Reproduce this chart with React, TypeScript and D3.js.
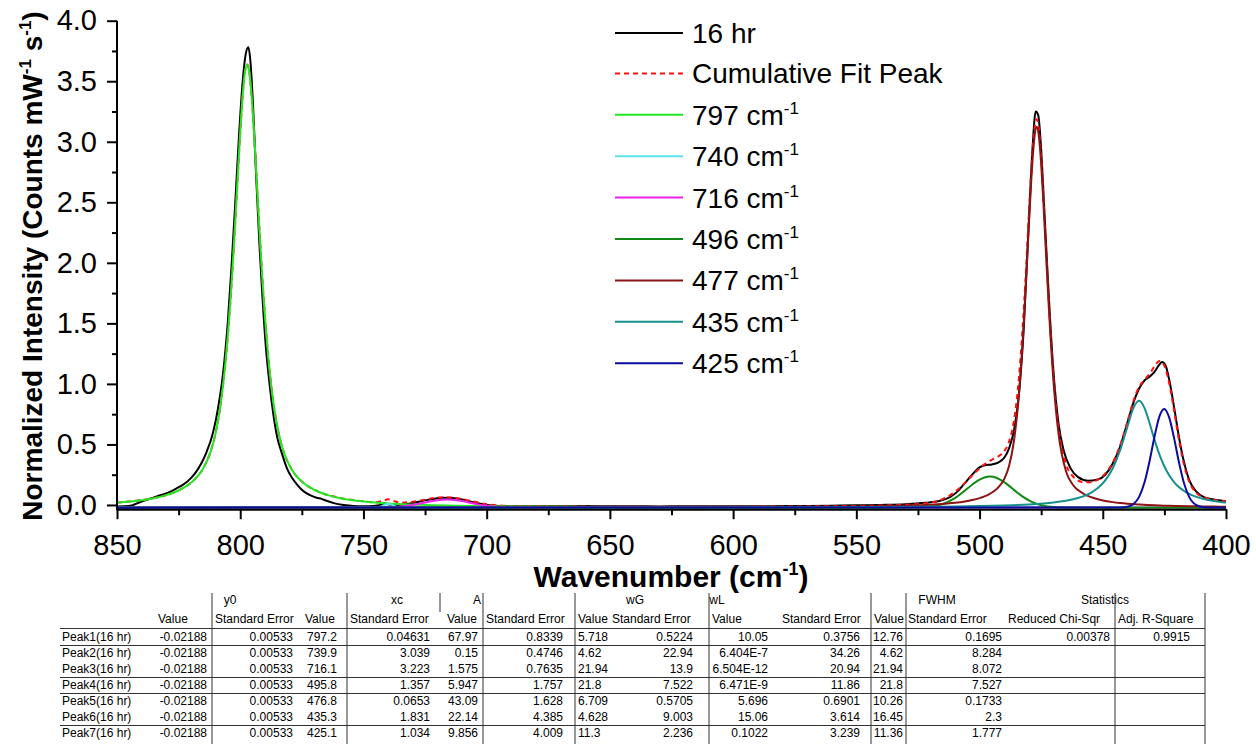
import React, { useEffect, useRef } from 'react';
import * as d3 from 'd3';

type Pt = [number, number];

// ---------- spectrum data (wavenumber, intensity) ----------
const spectrum16hr: Pt[] = [
  [850, -0.012], [847, -0.011], [844, -0.004], [841, 0.02], [838, 0.042], [835, 0.062], [832, 0.083],
  [829, 0.104], [826, 0.135], [823, 0.17], [820, 0.222], [817, 0.3], [814, 0.42], [811, 0.6], [809, 0.8],
  [807, 1.08], [805, 1.52], [803.5, 1.98], [802, 2.5], [800.5, 3.05], [799, 3.5], [797.8, 3.72], [796.7, 3.78],
  [795.8, 3.65], [794.8, 3.3], [793.5, 2.7], [792.2, 2.15], [791, 1.72], [789.5, 1.28], [788, 0.98],
  [786.5, 0.74], [785, 0.56], [783, 0.42], [781, 0.3], [779, 0.225], [777, 0.17], [775, 0.125], [773, 0.095],
  [771, 0.075], [769, 0.06], [767, 0.05], [765, 0.035], [762, 0.015], [758, 0.0], [754, -0.008], [750, -0.01],
  [746, -0.008], [743, 0.0], [741.5, 0.015], [740, 0.005], [737, -0.002], [733, 0.005], [729, 0.02], [725, 0.038],
  [721, 0.052], [718, 0.06], [714, 0.057], [710, 0.045], [706, 0.025], [702, 0.008], [698, -0.004], [694, -0.008],
  [688, -0.01], [680, -0.01], [670, -0.011], [660, -0.009], [650, -0.011], [640, -0.01], [630, -0.012],
  [620, -0.01], [610, -0.011], [600, -0.01], [590, -0.011], [580, -0.009], [570, -0.008], [560, -0.006],
  [550, -0.003], [540, 0.0], [530, 0.006], [522, 0.018], [516, 0.035], [512, 0.065], [509, 0.11], [506, 0.18],
  [503, 0.25], [500, 0.31], [497.5, 0.33], [495, 0.335], [492.5, 0.35], [490, 0.39], [488, 0.47], [486, 0.62],
  [484, 0.92], [482, 1.48], [480, 2.35], [478.5, 2.95], [477.2, 3.25], [476.2, 3.22], [475.2, 3.0], [474, 2.55],
  [473, 2.15], [472, 1.76], [470, 1.1], [468, 0.68], [466, 0.46], [463, 0.3], [460, 0.23], [456, 0.2], [452, 0.21],
  [449, 0.25], [446, 0.34], [443, 0.48], [440, 0.68], [437.5, 0.85], [435.3, 0.96], [433, 1.03], [431, 1.06],
  [429, 1.1], [427, 1.16], [426, 1.18], [424.5, 1.15], [423, 1.03], [421, 0.8], [419, 0.55], [417, 0.35],
  [415, 0.21], [412, 0.11], [409, 0.065], [405, 0.045], [400, 0.03],
];

const cumulativeFit: Pt[] = [
  [850, 0.0195], [845, 0.0285], [840, 0.04], [835, 0.057], [830, 0.082], [825, 0.12], [820, 0.184], [815, 0.3045],
  [812, 0.4418], [810, 0.5928], [808, 0.8244], [806, 1.1753], [805, 1.407], [804, 1.6798], [803, 1.996], [802, 2.3458],
  [801, 2.716], [800, 3.0768], [799, 3.385], [798, 3.5858], [797.2, 3.6378], [796.4, 3.5858], [795.4, 3.385],
  [794.4, 3.0768], [793.4, 2.716], [792.4, 2.3458], [791.4, 1.996], [790.4, 1.6798], [789.4, 1.407], [788.4, 1.1753],
  [786.4, 0.8244], [784.4, 0.5928], [782.4, 0.4418], [779.4, 0.3045], [774.4, 0.184], [769.4, 0.12], [764.4, 0.082],
  [759.4, 0.057], [754.4, 0.041], [750, 0.03], [745, 0.0218], [742, 0.0351], [740, 0.0469], [738, 0.0351],
  [735, 0.0185], [730, 0.0267], [725, 0.0439], [720, 0.0603], [716, 0.0643], [712, 0.0565], [706, 0.0309],
  [700, 0.0069], [695, -0.004], [690, -0.0089], [650, -0.014], [600, -0.014], [560, -0.0101], [540, -0.0044],
  [530, 0.0014], [520, 0.0188], [515, 0.0477], [510, 0.1074], [506, 0.1802], [503, 0.2427], [500, 0.3019],
  [498, 0.3354], [495.8, 0.3648], [493, 0.3952], [490, 0.4436], [488, 0.5239], [486, 0.703], [484, 1.0553],
  [482, 1.6349], [480, 2.3927], [479, 2.7641], [478, 3.0509], [477, 3.1847], [476.8, 3.186], [476, 3.1168],
  [475, 2.8731], [474, 2.5153], [473, 2.1139], [472, 1.7211], [470, 1.0701], [468, 0.6469], [465, 0.3425],
  [462, 0.2343], [458, 0.1892], [455, 0.1882], [452, 0.2095], [449, 0.259], [446, 0.3477], [443, 0.4895],
  [440, 0.6874], [437.5, 0.8628], [435.3, 0.9747], [433, 1.0356], [431, 1.0823], [429, 1.1455], [427, 1.1882],
  [426, 1.1822], [425.1, 1.1545], [423, 1.0007], [421, 0.7705], [419, 0.5267], [417, 0.3278], [415, 0.1958],
  [412, 0.0991], [409, 0.0632], [405, 0.0427], [400, 0.0278],
];

const peak797: Pt[] = [
  [850, 0.019], [845, 0.028], [840, 0.0395], [835, 0.0563], [830, 0.0811], [825, 0.1195], [820, 0.1835],
  [815, 0.3037], [812, 0.441], [810, 0.592], [808, 0.8236], [806, 1.1745], [805, 1.406], [804, 1.679], [803, 1.995],
  [802, 2.345], [801, 2.715], [800, 3.076], [799, 3.384], [798, 3.585], [797.2, 3.637], [796.4, 3.585],
  [795.4, 3.384], [794.4, 3.076], [793.4, 2.715], [792.4, 2.345], [791.4, 1.995], [790.4, 1.679], [789.4, 1.406],
  [788.4, 1.1745], [786.4, 0.8236], [784.4, 0.592], [782.4, 0.441], [779.4, 0.3037], [774.4, 0.1835],
  [769.4, 0.1195], [764.4, 0.0811], [759.4, 0.0563], [754.4, 0.0395], [744.4, 0.019], [727.2, 0.001],
  [697.2, -0.011], [647.2, -0.017], [597.2, -0.019], [497.2, -0.021], [400, -0.021],
];

const peak740: Pt[] = [
  [850, -0.022], [746, -0.0217], [744, -0.0186], [743, -0.0132], [742, -0.0048], [741, 0.0041], [740, 0.0085],
  [739, 0.0055], [738, -0.0029], [737, -0.0118], [736, -0.0178], [734, -0.0217], [400, -0.022],
];

const peak716: Pt[] = [
  [850, -0.022], [750, -0.0219], [745, -0.0215], [740, -0.0195], [736, -0.0151], [732, -0.0063], [728, 0.0078],
  [724, 0.025], [720, 0.0397], [716.1, 0.0454], [712, 0.0392], [708, 0.0242], [704, 0.007], [700, -0.0069],
  [696, -0.0154], [692, -0.0196], [686, -0.0216], [400, -0.022],
];

const peak496: Pt[] = [
  [850, -0.022], [540, -0.022], [530, -0.0217], [520, -0.0136], [515, 0.0078], [510, 0.057], [506, 0.1177],
  [503, 0.1674], [500, 0.2092], [498, 0.2272], [495.8, 0.2343], [493, 0.2228], [490, 0.1886], [488, 0.1577],
  [486, 0.1244], [484, 0.0918], [482, 0.0624], [480, 0.0377], [478, 0.0183], [476, 0.004], [474, -0.006],
  [472, -0.0126], [470, -0.0167], [468, -0.0192], [465, -0.021], [460, -0.022], [400, -0.022],
];

const peak477: Pt[] = [
  [850, -0.0217], [700, -0.0211], [600, -0.0191], [560, -0.0156], [540, -0.011], [530, -0.0065], [520, 0.0014],
  [515, 0.0079], [510, 0.0173], [506, 0.0284], [503, 0.0402], [500, 0.0565], [498, 0.0712], [495.8, 0.0925],
  [493, 0.133], [490, 0.2139], [488, 0.3237], [486, 0.5346], [484, 0.9179], [482, 1.525], [480, 2.3054],
  [479, 2.686], [478, 2.9806], [477, 3.1208], [476.8, 3.123], [476, 3.058], [475, 2.8183], [474, 2.4633],
  [473, 2.0638], [472, 1.672], [470, 1.0208], [468, 0.5951], [465, 0.2831], [462, 0.1632], [458, 0.0949],
  [455, 0.0664], [452, 0.0471], [449, 0.0335], [446, 0.0235], [443, 0.0159], [440, 0.0101], [435, 0.0034],
  [429, -0.0028], [425, -0.0056], [420, -0.0084], [415, -0.0105], [410, -0.0121], [405, -0.0134], [400, -0.0145],
];

const peak435: Pt[] = [
  [850, -0.0217], [700, -0.0212], [600, -0.02], [560, -0.0185], [540, -0.0171], [520, -0.0145], [510, -0.0124],
  [500, -0.0092], [490, -0.0043], [480, 0.0043], [474, 0.0127], [470, 0.0207], [465, 0.0351], [462, 0.0475],
  [458, 0.0711], [455, 0.0986], [452, 0.1392], [449, 0.2023], [446, 0.3009], [443, 0.4496], [440, 0.6472],
  [437.5, 0.8036], [435.3, 0.8611], [433, 0.7985], [431, 0.6746], [429, 0.5374], [427, 0.4153], [425.1, 0.322],
  [423, 0.2431], [421, 0.1874], [419, 0.1461], [417, 0.1154], [415, 0.0923], [412, 0.0672], [409, 0.0495],
  [405, 0.033], [400, 0.0193],
];

const peak425: Pt[] = [
  [850, -0.022], [446, -0.0219], [443, -0.0212], [440, -0.0151], [437.5, 0.0079], [435.3, 0.0651], [433, 0.1912],
  [431, 0.3637], [429, 0.5658], [427, 0.7321], [425.1, 0.793], [423, 0.7193], [421, 0.5459], [419, 0.3443],
  [417, 0.177], [415, 0.069], [412, -0.0016], [409, -0.0189], [405, -0.0219], [400, -0.022],
];

// ---------- legend ----------
const legendLabels = ['16 hr', 'Cumulative Fit Peak', '797', '740', '716', '496', '477', '435', '425'];
const legendColors = ['#000000', '#ff1010', '#22e822', '#5ae4ee', '#ee22ee', '#108a10', '#8c1414', '#168f8f', '#0c0ca0'];
const legendSuperscript = [false, false, true, true, true, true, true, true, true];

// ---------- axis ticks ----------
const xTickValues = [850, 800, 750, 700, 650, 600, 550, 500, 450, 400];
const xMinorTicks = [825, 775, 725, 675, 625, 575, 525, 475, 425];
const yTickValues = [0, 0.5, 1.0, 1.5, 2.0, 2.5, 3.0, 3.5, 4.0];
const yMinorTicks = [0.25, 0.75, 1.25, 1.75, 2.25, 2.75, 3.25, 3.75];

// ---------- fit table ----------
const peakLabels = ['Peak1(16 hr)', 'Peak2(16 hr)', 'Peak3(16 hr)', 'Peak4(16 hr)', 'Peak5(16 hr)', 'Peak6(16 hr)', 'Peak7(16 hr)'];
const y0Values = ['-0.02188', '-0.02188', '-0.02188', '-0.02188', '-0.02188', '-0.02188', '-0.02188'];
const y0Errors = ['0.00533', '0.00533', '0.00533', '0.00533', '0.00533', '0.00533', '0.00533'];
const xcValues = ['797.2', '739.9', '716.1', '495.8', '476.8', '435.3', '425.1'];
const xcErrors = ['0.04631', '3.039', '3.223', '1.357', '0.0653', '1.831', '1.034'];
const aValues = ['67.97', '0.15', '1.575', '5.947', '43.09', '22.14', '9.856'];
const aErrors = ['0.8339', '0.4746', '0.7635', '1.757', '1.628', '4.385', '4.009'];
const wgValues = ['5.718', '4.62', '21.94', '21.8', '6.709', '4.628', '11.3'];
const wgErrors = ['0.5224', '22.94', '13.9', '7.522', '0.5705', '9.003', '2.236'];
const wlValues = ['10.05', '6.404E-7', '6.504E-12', '6.471E-9', '5.696', '15.06', '0.1022'];
const wlErrors = ['0.3756', '34.26', '20.94', '11.86', '0.6901', '3.614', '3.239'];
const fwhmValues = ['12.76', '4.62', '21.94', '21.8', '10.26', '16.45', '11.36'];
const fwhmErrors = ['0.1695', '8.284', '8.072', '7.527', '0.1733', '2.3', '1.777'];
const reducedChiSqr = ['0.00378', '', '', '', '', '', ''];
const adjRSquare = ['0.9915', '', '', '', '', '', ''];
const groupHeaders = ['y0', 'xc', 'A', 'wG', 'wL', 'FWHM', 'Statistics'];
const subHeaders = ['Value', 'Standard Error', 'Value', 'Standard Error', 'Value', 'Standard Error', 'Value',
  'Standard Error', 'Value', 'Standard Error', 'Value', 'Standard Error', 'Reduced Chi-Sqr', 'Adj. R-Square'];

const FONT = "'Liberation Sans', Arial, Helvetica, sans-serif";

export default function App() {
  const ref = useRef<SVGSVGElement>(null);

  useEffect(() => {
    const svg = d3.select(ref.current);
    svg.selectAll('*').remove();

    const X0 = 117, X1 = 1226, YB = 509.2, YT = 20.7;
    const x = d3.scaleLinear().domain([850, 400]).range([X0, X1]);
    const y = d3.scaleLinear().domain([-0.035, 4.0]).range([YB, YT]);

    svg.append('defs').append('clipPath').attr('id', 'plotclip')
      .append('rect').attr('x', X0).attr('y', 0).attr('width', X1 - X0 + 2).attr('height', YB);

    const line = d3.line<Pt>().x(d => x(d[0])).y(d => y(d[1])).curve(d3.curveMonotoneX);
    const plot = svg.append('g').attr('clip-path', 'url(#plotclip)');

    const series: { data: Pt[]; color: string; width: number; dash?: string }[] = [
      { data: spectrum16hr, color: legendColors[0], width: 2 },
      { data: cumulativeFit, color: legendColors[1], width: 2, dash: '5,4' },
      { data: peak797, color: legendColors[2], width: 2 },
      { data: peak740, color: legendColors[3], width: 2 },
      { data: peak716, color: legendColors[4], width: 2 },
      { data: peak496, color: legendColors[5], width: 2 },
      { data: peak477, color: legendColors[6], width: 2 },
      { data: peak435, color: legendColors[7], width: 2 },
      { data: peak425, color: legendColors[8], width: 2 },
    ];
    series.forEach(s => {
      plot.append('path').attr('d', line(s.data) as string).attr('fill', 'none')
        .attr('stroke', s.color).attr('stroke-width', s.width)
        .attr('stroke-dasharray', s.dash || null).attr('stroke-linejoin', 'round');
    });

    // axes
    const styleAxis = (g: any) => {
      g.select('.domain').attr('stroke', '#000').attr('stroke-width', 2);
      g.selectAll('.tick line').attr('stroke', '#000').attr('stroke-width', 2);
      g.selectAll('.tick text').attr('fill', '#000').style('font-family', FONT).style('font-size', '29px');
    };
    const gx = svg.append('g').attr('transform', `translate(0,${YB})`)
      .call(d3.axisBottom(x).tickValues(xTickValues).tickSize(10).tickSizeOuter(0).tickPadding(15).tickFormat(d3.format('d')));
    styleAxis(gx);
    const gxm = svg.append('g').attr('transform', `translate(0,${YB})`)
      .call(d3.axisBottom(x).tickValues(xMinorTicks).tickSize(6).tickSizeOuter(0).tickFormat(() => ''));
    styleAxis(gxm);
    gxm.select('.domain').remove();

    const gy = svg.append('g').attr('transform', `translate(${X0},0)`)
      .call(d3.axisLeft(y).tickValues(yTickValues).tickSize(10).tickSizeOuter(0).tickPadding(10).tickFormat(d3.format('.1f')));
    styleAxis(gy);
    gy.select('.domain').attr('d', `M0,${YB + 1}V${y(4.0)}`);
    const gym = svg.append('g').attr('transform', `translate(${X0},0)`)
      .call(d3.axisLeft(y).tickValues(yMinorTicks).tickSize(5).tickSizeOuter(0).tickFormat(() => ''));
    styleAxis(gym);
    gym.select('.domain').remove();

    // axis titles
    const xt = svg.append('text').attr('x', 671).attr('y', 587).attr('text-anchor', 'middle')
      .style('font-family', FONT).style('font-size', '30px').style('font-weight', 'bold');
    xt.append('tspan').text('Wavenumber (cm');
    xt.append('tspan').attr('dy', -12).style('font-size', '18px').text('-1');
    xt.append('tspan').attr('dy', 12).text(')');

    const yt = svg.append('text').attr('transform', 'translate(42,266) rotate(-90)').attr('text-anchor', 'middle')
      .style('font-family', FONT).style('font-size', '28px').style('font-weight', 'bold');
    yt.append('tspan').text('Normalized Intensity (Counts mW');
    yt.append('tspan').attr('dy', -11).style('font-size', '17px').text('-1');
    yt.append('tspan').attr('dy', 11).text(' s');
    yt.append('tspan').attr('dy', -11).style('font-size', '17px').text('-1');
    yt.append('tspan').attr('dy', 11).text(')');

    // legend
    const lg = svg.append('g');
    legendLabels.forEach((lab, i) => {
      const ly = 32 + i * 41.4 + (i === 0 ? 1 : 0);
      lg.append('line').attr('x1', 615).attr('x2', 683).attr('y1', ly).attr('y2', ly)
        .attr('stroke', legendColors[i]).attr('stroke-width', 2)
        .attr('stroke-dasharray', i === 1 ? '5,4' : null);
      const t = lg.append('text').attr('x', 692).attr('y', ly + 10)
        .style('font-family', FONT).style('font-size', '28px').attr('fill', '#000');
      if (legendSuperscript[i]) {
        t.append('tspan').text(`${lab} cm`);
        t.append('tspan').attr('dy', -11).style('font-size', '17px').text('-1');
      } else {
        t.text(lab);
      }
    });

    // table
    const tb = svg.append('g').style('font-family', FONT).style('font-size', '12px').attr('fill', '#000');
    const rowH = 16;
    const rowY = (i: number) => 641 + i * rowH;
    const groupX = [230, 397, 477, 635, 717, 937, 1105];
    groupHeaders.forEach((h, i) => {
      tb.append('text').attr('x', groupX[i]).attr('y', 604).attr('text-anchor', 'middle').text(h);
    });
    const subX = [158, 215, 305, 350, 447, 486, 578, 612, 712, 782, 874, 908, 1008, 1118];
    subHeaders.forEach((h, i) => {
      tb.append('text').attr('x', subX[i]).attr('y', 623).text(h);
    });
    const columns: { vals: string[]; x: number; anchor: string }[] = [
      { vals: peakLabels, x: 62, anchor: 'start' },
      { vals: y0Values, x: 207, anchor: 'end' },
      { vals: y0Errors, x: 293, anchor: 'end' },
      { vals: xcValues, x: 337, anchor: 'end' },
      { vals: xcErrors, x: 430, anchor: 'end' },
      { vals: aValues, x: 478, anchor: 'end' },
      { vals: aErrors, x: 563, anchor: 'end' },
      { vals: wgValues, x: 578, anchor: 'start' },
      { vals: wgErrors, x: 693, anchor: 'end' },
      { vals: wlValues, x: 768, anchor: 'end' },
      { vals: wlErrors, x: 860, anchor: 'end' },
      { vals: fwhmValues, x: 903, anchor: 'end' },
      { vals: fwhmErrors, x: 1002, anchor: 'end' },
      { vals: reducedChiSqr, x: 1110, anchor: 'end' },
      { vals: adjRSquare, x: 1190, anchor: 'end' },
    ];
    columns.forEach(c => {
      c.vals.forEach((v, i) => {
        if (v) tb.append('text').attr('x', c.x).attr('y', rowY(i)).attr('text-anchor', c.anchor).text(v);
      });
    });
    // horizontal rules below header, Peak1, Peak3, Peak4, Peak6
    const ruleAfter = [-1, 0, 2, 3, 5];
    ruleAfter.forEach(r => {
      const hy = r < 0 ? 628.5 : rowY(r) + 4.5;
      tb.append('line').attr('x1', 60).attr('x2', 1205).attr('y1', hy).attr('y2', hy).attr('stroke', '#333').attr('stroke-width', 1);
    });
    const vLines = [212, 347, 483, 575, 709, 871, 906, 1115, 1205];
    vLines.forEach(vx => {
      tb.append('line').attr('x1', vx).attr('x2', vx).attr('y1', 593).attr('y2', 744).attr('stroke', '#333').attr('stroke-width', 1);
    });
    tb.append('line').attr('x1', 440).attr('x2', 440).attr('y1', 593).attr('y2', 612).attr('stroke', '#333').attr('stroke-width', 1);
  }, []);

  return (
    <svg ref={ref} width={1256} height={744} viewBox="0 0 1256 744"
      style={{ position: 'absolute', left: 0, top: 0, background: '#fff' }} />
  );
}
